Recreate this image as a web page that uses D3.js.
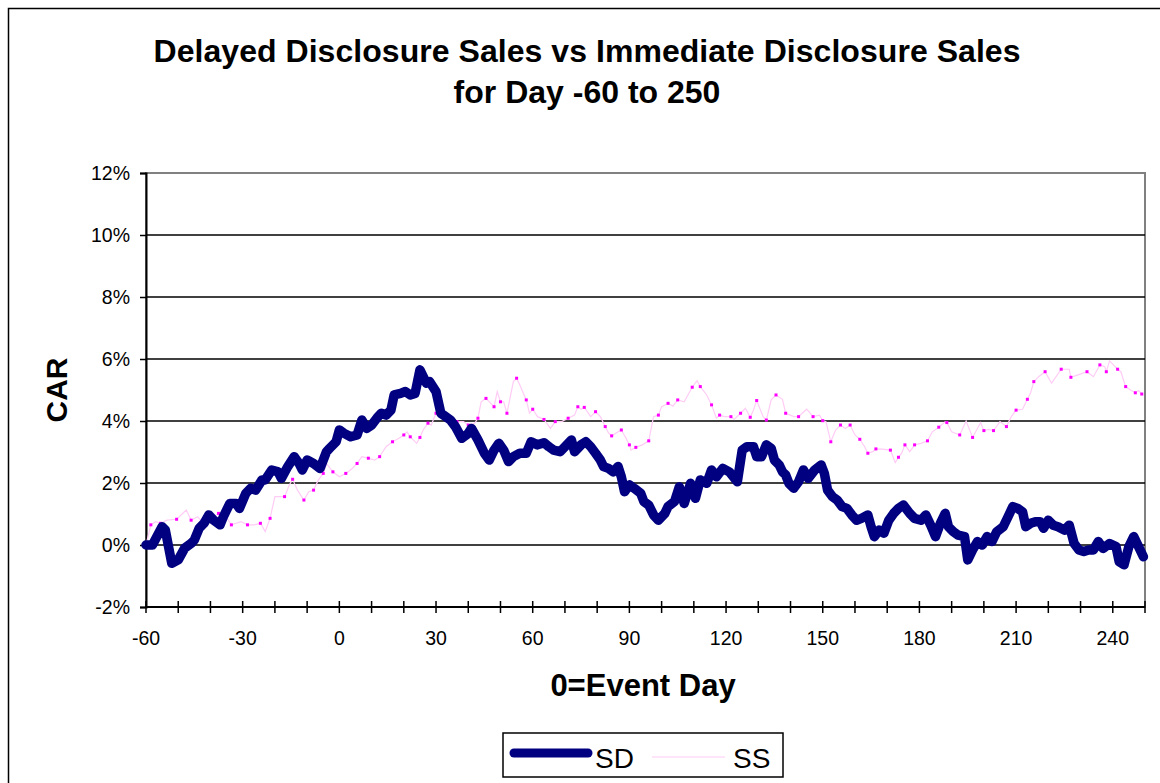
<!DOCTYPE html>
<html>
<head>
<meta charset="utf-8">
<script src="https://cdn.jsdelivr.net/npm/d3@7"></script>
<style>
  html, body { margin: 0; padding: 0; background: #fff; }
  svg { display: block; font-family: "Liberation Sans", Arial, sans-serif; }
</style>
</head>
<body>
<svg id="chart" width="1160" height="783"></svg>
<script>
// ---------- data ----------
const titleLines = ["Delayed Disclosure Sales vs Immediate Disclosure Sales", "for Day -60 to 250"];
const yTicks = [-2, 0, 2, 4, 6, 8, 10, 12];
const xTicks = [-60, -30, 0, 30, 60, 90, 120, 150, 180, 210, 240];
const xMinorTicks = [-60, -50, -40, -30, -20, -10, 0, 10, 20, 30, 40, 50, 60, 70, 80, 90, 100, 110, 120, 130, 140, 150, 160, 170, 180, 190, 200, 210, 220, 230, 240, 250];
const seriesNames = ["SD", "SS"];

const sdDay = [-60,-58,-55,-54,-52,-50,-48,-46,-45,-43.5,-42,-40.5,-39,-37,-36,-34,-32,-31,-29,-27.5,-26,-24,-23,-21,-19,-18,-16,-14,-12.5,-11.5,-10,-8,-6,-4,-3,-1,0,1.5,3.5,5.5,7,8.5,10,12,13,14.5,16,17,19,20.5,22,23.5,25,27,28,30,31.5,33,34.5,36,38,40,41,43,45,46.5,48,49.5,51,52.5,54,56,58,59.5,61.5,63.5,65,66.5,68.5,70,72,73,75,76.5,78,79.5,81,82,83.5,85,86.5,87.5,88.5,90,91.5,93.5,94.5,96,97.5,99,101,102,104,105.5,107,109,110.5,112,114,115.5,117,119,121,123.5,125,126.5,128.5,129.5,131,132.5,134,135,136.5,137.5,138.5,139.5,141,142.5,144,145.5,147.5,149.5,150.5,151.5,153,154.5,156,157.5,159,160.5,162,164,165,166,167.5,169,170.5,172,173.5,175,177,178.5,180.5,182,183.5,185,186.5,188,189,190.5,192,194,195,196.5,198,199.5,201,202.5,204,206,207.5,209,210.5,212,213,214.5,216,217.5,218.5,220,221.5,223,225,226.5,228,229.5,231,232.5,234,235.5,237,239,241,242,243.5,245,246.5,248,249.5];
const sdCar = [0,0,0.59,0.48,-0.59,-0.48,-0.1,0.05,0.16,0.54,0.7,0.97,0.8,0.65,0.91,1.34,1.34,1.18,1.67,1.83,1.77,2.1,2.1,2.42,2.36,2.15,2.53,2.85,2.63,2.42,2.74,2.63,2.47,3.01,3.12,3.33,3.71,3.6,3.49,3.55,4.03,3.76,3.87,4.14,4.25,4.19,4.35,4.84,4.89,4.95,4.84,4.89,5.65,5.22,5.27,4.95,4.25,4.14,4.03,3.82,3.44,3.6,3.76,3.39,2.96,2.74,3.06,3.28,3.06,2.69,2.85,2.96,2.96,3.33,3.23,3.3,3.17,3.06,3.01,3.17,3.39,3.01,3.23,3.33,3.17,2.96,2.74,2.53,2.47,2.36,2.53,2.2,1.72,1.94,1.83,1.67,1.4,1.29,0.97,0.8,1.02,1.24,1.4,1.88,1.34,1.99,1.51,2.1,1.99,2.42,2.2,2.47,2.36,2.04,3.06,3.17,3.17,2.85,2.85,3.23,3.12,2.74,2.58,2.36,2.26,1.99,1.83,2.04,2.42,2.15,2.42,2.58,2.31,1.77,1.56,1.45,1.24,1.18,0.97,0.8,0.86,0.97,0.59,0.27,0.48,0.38,0.8,1.02,1.18,1.29,1.02,0.86,0.8,0.97,0.64,0.27,0.7,1.02,0.59,0.43,0.32,0.27,-0.48,-0.16,0.11,0,0.27,0.11,0.43,0.59,0.91,1.24,1.18,1.07,0.59,0.7,0.75,0.75,0.54,0.8,0.64,0.59,0.48,0.64,0.05,-0.16,-0.21,-0.16,-0.16,0.11,-0.11,0.05,-0.05,-0.54,-0.64,-0.05,0.27,-0.05,-0.38];

const ssDay = [-60,-58.5,-57,-55.5,-53.5,-50.5,-47.5,-46,-44,-42,-39.5,-37.5,-35.5,-33.5,-30.5,-28.5,-26.5,-24.5,-23,-21.5,-20,-17,-15.5,-14.5,-13,-11,-9.5,-8,-6.5,-5,-4,-2,0,2,4,5.5,7,9,11,12.5,14.5,16.5,18.5,20,21,22,24,25,26,27.5,28.5,30,32,33.5,35,36.5,38.5,40,42,43,44,45.5,47,48,49,50,51,52,54,55,56,58,59,60,61.5,63.5,65.5,67,69,71,73,74,75,76,78,79.5,81,82.5,83.5,84.5,86,87.5,89,90,90.5,92,94,96,97.5,99,100,102,103.5,105,107,109.5,111,112,114,115.5,117,118,119.5,121.5,122.5,124.5,126,127.5,128.5,129.5,131.5,132.5,134,135.5,137.5,138.5,141,142.5,145,147,149,150,151,152.5,154,155.5,157,158.5,160,161.5,163,164,165.5,166.5,168.5,171,172.5,173.5,174.5,175.5,177,178.5,180.5,182.5,184,186,188,188.5,190,192.5,194.5,196.5,199,200,201.5,203,205,207,208.5,210,212,213.5,214.5,215.5,217,219,221,224,226.5,227,229,232,234,236,237.5,238,239,241.5,242.5,244,245.5,247,248,249];
const ssCar = [0,0.65,0.75,0.7,0.8,0.83,1.13,0.8,0.91,0.7,0.86,1.02,0.97,0.65,0.75,0.65,0.65,0.7,0.43,0.86,1.56,1.56,1.94,2.12,1.77,1.45,1.72,1.77,2.1,2.31,2.63,2.36,2.2,2.31,2.47,2.63,2.85,2.8,2.74,2.85,3.17,3.33,3.44,3.55,3.65,3.49,3.28,3.47,3.71,3.93,3.87,4.25,4.14,4.09,4.05,3.98,3.98,3.87,3.93,4.09,4.62,4.73,4.57,4.46,4.95,4.62,4.62,4.25,5.27,5.38,5.16,4.68,4.25,4.38,4.14,4.05,3.76,3.98,3.98,4.09,4.19,4.46,4.38,4.44,4.14,4.3,4.14,3.82,3.62,3.52,3.62,3.71,3.44,3.23,3.06,3.15,3.23,3.36,4.14,4.19,4.46,4.57,4.48,4.68,4.62,5.09,5.3,5.11,4.84,4.52,4.09,4.19,4.14,4.14,4.05,4.25,4.41,4.12,4.35,4.66,4.14,4.03,4.68,4.84,4.7,4.25,4.14,4.14,4.38,4.14,4.19,4.01,3.98,3.33,3.71,3.87,3.76,3.87,3.55,3.41,3.17,2.96,3.01,3.1,3.09,3.06,2.66,2.83,2.96,3.23,3.01,3.23,3.28,3.36,3.65,3.8,3.98,3.95,3.65,3.55,4.0,3.47,3.95,3.69,3.73,3.69,3.98,3.82,4.14,4.35,4.38,4.7,4.91,5.27,5.43,5.59,5.22,5.67,5.67,5.41,5.48,5.59,5.43,5.81,5.75,5.59,5.94,5.67,5.59,5.11,5.0,4.91,4.98,4.87];

// ---------- layout ----------
const svg = d3.select("#chart");
const plot = { left: 146, right: 1145, top: 173, bottom: 607 };

const x = d3.scaleLinear().domain([-60, 250]).range([plot.left, plot.right]);
const y = d3.scaleLinear().domain([-2, 12]).range([plot.bottom, plot.top]);

// outer chart frame
svg.append("rect").attr("x", 8.5).attr("y", 8.5).attr("width", 1170).attr("height", 800)
  .attr("fill", "#fff").attr("stroke", "#000").attr("stroke-width", 1.5);

// title
svg.append("g").selectAll("text").data(titleLines).join("text")
  .attr("x", 587).attr("y", (d, i) => 62 + i * 41)
  .attr("text-anchor", "middle").attr("font-size", 32).attr("font-weight", "bold")
  .attr("textLength", (d, i) => i === 0 ? 867 : null)
  .text(d => d);

// plot border (grey)
svg.append("rect").attr("x", plot.left).attr("y", plot.top)
  .attr("width", plot.right - plot.left).attr("height", plot.bottom - plot.top)
  .attr("fill", "none").attr("stroke", "#808080").attr("stroke-width", 2);

// gridlines
svg.append("g").selectAll("line").data(yTicks.filter(t => t > -2 && t < 12)).join("line")
  .attr("x1", plot.left).attr("x2", plot.right)
  .attr("y1", d => y(d)).attr("y2", d => y(d))
  .attr("stroke", "#000").attr("stroke-width", 1.5);

// y axis
const yAxis = d3.axisLeft(y).tickValues(yTicks).tickSize(6).tickFormat(d => d + "%");
const gy = svg.append("g").attr("transform", `translate(${plot.left},0)`).call(yAxis);
gy.select(".domain").attr("stroke", "#000").attr("stroke-width", 2);
gy.selectAll(".tick line").attr("stroke", "#000").attr("stroke-width", 1.5);
gy.selectAll(".tick text").attr("font-size", 19.5).attr("font-family", "Liberation Sans, Arial, sans-serif")
  .attr("fill", "#000").attr("x", -16).attr("dy", "0.35em");

// x axis
const gx = svg.append("g").attr("transform", `translate(0,${plot.bottom})`);
gx.append("line").attr("x1", plot.left).attr("x2", plot.right).attr("y1", 0).attr("y2", 0)
  .attr("stroke", "#000").attr("stroke-width", 2);
gx.selectAll("line.tk").data(xMinorTicks).join("line").attr("class", "tk")
  .attr("x1", d => x(d)).attr("x2", d => x(d)).attr("y1", -6).attr("y2", 6)
  .attr("stroke", "#000").attr("stroke-width", 1.5);
gx.selectAll("text").data(xTicks).join("text")
  .attr("x", d => x(d)).attr("y", 38).attr("text-anchor", "middle")
  .attr("font-size", 19.5).text(d => d);

// axis titles
svg.append("text").attr("x", 643).attr("y", 696).attr("text-anchor", "middle")
  .attr("font-size", 31).attr("font-weight", "bold").text("0=Event Day");
svg.append("text").attr("transform", "translate(67,390) rotate(-90)")
  .attr("text-anchor", "middle").attr("font-size", 30).attr("font-weight", "bold").text("CAR");

// series
const sd = sdDay.map((d, i) => [d, sdCar[i]]);
const ss = ssDay.map((d, i) => [d, ssCar[i]]);
const line = d3.line().x(d => x(d[0])).y(d => y(d[1]));

svg.append("path").datum(ss).attr("d", line)
  .attr("fill", "none").attr("stroke", "#FFCCF6").attr("stroke-width", 1.2);
svg.append("g").selectAll("rect").data(ss.filter((d, i) => i % 2 === 1)).join("rect")
  .attr("x", d => x(d[0]) - 1.5).attr("y", d => y(d[1]) - 1.5)
  .attr("width", 3).attr("height", 3).attr("fill", "#FF00FF");

svg.append("path").datum(sd).attr("d", line)
  .attr("fill", "none").attr("stroke", "#000080").attr("stroke-width", 9.5)
  .attr("stroke-linejoin", "round").attr("stroke-linecap", "round");

// legend
const lg = svg.append("g");
lg.append("rect").attr("x", 503).attr("y", 733).attr("width", 280).attr("height", 44)
  .attr("fill", "#fff").attr("stroke", "#000").attr("stroke-width", 1.5);
lg.append("line").attr("x1", 514).attr("x2", 588).attr("y1", 753).attr("y2", 753)
  .attr("stroke", "#000080").attr("stroke-width", 9).attr("stroke-linecap", "round");
lg.append("line").attr("x1", 652).attr("x2", 725).attr("y1", 757).attr("y2", 757)
  .attr("stroke", "#FFCCF6").attr("stroke-width", 1.2);
lg.selectAll("text").data(seriesNames).join("text")
  .attr("x", (d, i) => i === 0 ? 595 : 733).attr("y", 768)
  .attr("font-size", 28).text(d => d);
</script>
</body>
</html>
